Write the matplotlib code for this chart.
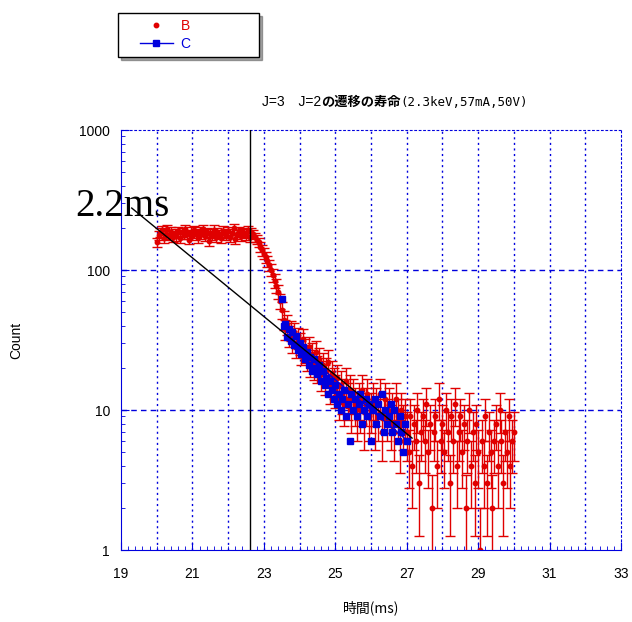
import numpy as np
import matplotlib
matplotlib.use('Agg')
import matplotlib.pyplot as plt
from matplotlib.lines import Line2D
from matplotlib.legend_handler import HandlerLine2D
from matplotlib.ticker import FixedLocator, NullFormatter, LogLocator

plt.rcParams['font.family'] = ['Liberation Sans', 'Noto Sans CJK JP', 'DejaVu Sans']

# series B: counts with sqrt(N) error bars, 20.00 .. 30.00 ms step 0.05
b_start = 20.0
b_step = 0.05
b_counts = [
    158, 178, 185, 192, 170, 181, 196, 176, 188, 172,
    183, 174, 190, 168, 186, 179, 195, 181, 165, 188,
    176, 192, 184, 170, 189, 181, 197, 175, 186, 160,
    182, 178, 194, 171, 187, 180, 168, 191, 183, 176,
    189, 172, 184, 198, 166, 181, 190, 175, 187, 183,
    178, 192, 171, 186, 180, 172, 165, 158, 146, 138,
    131, 124, 116, 108, 100, 92, 84, 77, 70, 60,
    52, 44, 38, 41, 34, 37, 31, 36, 29, 33,
    30, 26, 32, 27, 24, 28, 22, 25, 21, 26,
    20, 23, 18, 21, 17, 19, 22, 15, 18, 16,
    14, 17, 12, 15, 13, 11, 16, 12, 14, 10,
    13, 11, 9, 12, 10, 14, 8, 11, 13, 9,
    10, 12, 8, 11, 9, 13, 7, 10, 12, 9,
    11, 8, 10, 7, 12, 9, 6, 10, 8, 9,
    7, 5, 9, 4, 8, 6, 10, 3, 7, 9,
    6, 11, 5, 8, 2, 7, 9, 4, 12, 6,
    8, 5, 10, 7, 3, 9, 6, 11, 4, 7,
    9, 5, 8, 2, 6, 10, 4, 7, 3, 8,
    5, 1, 6, 4, 9, 3, 7, 5, 2, 6,
    8, 4, 10, 6, 3, 7, 5, 9, 4, 6,
    7,
]

# series C: 23.50 .. 27.00 ms step 0.05
c_start = 23.5
c_step = 0.05
c_counts = [
    62, 40, 41, 33, 38, 31, 36, 29, 34, 27,
    30, 25, 28, 23, 26, 21, 24, 19, 23, 20,
    18, 21, 16, 19, 15, 17, 13, 16, 14, 12,
    15, 11, 13, 10, 12, 14, 9, 11, 6, 13,
    10, 12, 9, 11, 13, 8, 10, 12, 9, 11,
    6, 10, 12, 8, 11, 9, 13, 7, 10, 8,
    9, 11, 7, 10, 8, 6, 9, 7, 5, 8,
    6,
]

# fitted lines (end points)
fit_x = [19.3, 27.15]
fit_y = [277, 6.3]
fitc_x = [23.6, 27.1]
fitc_y = [33, 5.8]
marker_t = 22.6

bx = b_start + b_step * np.arange(len(b_counts))
by = np.array(b_counts, dtype=float)
cx = c_start + c_step * np.arange(len(c_counts))
cy = np.array(c_counts, dtype=float)

fig = plt.figure(figsize=(6.32, 6.22), dpi=100)
ax = fig.add_axes([121/632, 1-550/622, 500/632, 420/622])
ax.set_xlim(19, 33)
ax.set_yscale('log')
ax.set_ylim(1, 1000)

blue = '#0000dd'
red = '#e00000'

# grid
for x in range(20, 33):
    ax.axvline(x, color=blue, lw=1, ls=(0, (1.5, 2.5)), zorder=0.5)
for y in [10, 100]:
    ax.axhline(y, color=blue, lw=1, ls=(0, (4, 3)), zorder=0.5)

ax.errorbar(bx, by, yerr=np.sqrt(by), fmt='o', color=red, ms=3.2,
            ecolor=red, elinewidth=1, capsize=3.5, capthick=1, zorder=2)
ax.plot(cx, cy, 's', color=blue, ms=4, zorder=3)
ax.plot(fitc_x, fitc_y, color=blue, lw=1, zorder=3)
ax.plot(fit_x, fit_y, color='black', lw=1, zorder=4)
ax.axvline(marker_t, color='black', lw=1, zorder=4)

for side in ['left', 'bottom']:
    ax.spines[side].set_color(blue)
for side in ['top', 'right']:
    ax.spines[side].set_color(blue)
    ax.spines[side].set_linestyle((0, (1.5, 2.5)))

ax.set_xticks(range(19, 34, 2))
ax.xaxis.set_minor_locator(FixedLocator(np.arange(19, 33.01, 0.2)))
ax.yaxis.set_major_locator(FixedLocator([1, 10, 100, 1000]))
ax.yaxis.set_minor_locator(LogLocator(base=10, subs=np.arange(2, 10)))
ax.yaxis.set_minor_formatter(NullFormatter())
ax.set_yticklabels(['1', '10', '100', '1000'])
ax.tick_params(axis='both', which='major', direction='in', length=6, color=blue,
               labelsize=10, top=False, right=False)
ax.tick_params(axis='both', which='minor', direction='in', length=3, color=blue,
               top=False, right=False)
ax.tick_params(axis='x', which='major', pad=12)
ax.tick_params(axis='y', which='major', pad=8)

ax.set_xlabel('時間(ms)', fontsize=10, family=['Noto Sans CJK JP'], labelpad=14)
ax.set_ylabel('Count', fontsize=10)
ax.yaxis.set_label_coords(-0.195, 0.5)

# title in three pieces: plain / bold CJK / mono
t1 = fig.text(262/632, 1-102/622, 'J=3\u3000J=2', fontsize=10,
              family=['Liberation Sans', 'Noto Sans CJK JP'], ha='left', va='center')
t2 = ax.annotate('の遷移の寿命', xy=(1, 0.5), xycoords=t1, ha='left', va='center',
                 fontsize=9.5, fontweight='bold', family=['Noto Sans CJK JP'],
                 annotation_clip=False)
t3 = ax.annotate('(2.3keV,57mA,50V)', xy=(1, 0.5), xycoords=t2, ha='left', va='center',
                 fontsize=9, family=['DejaVu Sans Mono'], annotation_clip=False)

fig.text(75/632, 1-207/622, '2.2ms', fontsize=28, family='Liberation Serif',
         ha='left', va='center', zorder=10)

handles = [Line2D([], [], ls='none', marker='o', color=red, ms=3.2),
           Line2D([], [], ls='-', marker='s', color=blue, ms=4, lw=1)]
pad_handler = HandlerLine2D(xpad=1.1)
leg = fig.legend(handles, ['B' + ' ' * 16, 'C' + ' ' * 16], loc='upper left',
                 bbox_to_anchor=(118/632, 1-13/622), frameon=True,
                 fancybox=False, shadow=True, fontsize=10,
                 handlelength=3.5, borderpad=0.45, labelspacing=0.25,
                 handletextpad=0.6, borderaxespad=0,
                 handler_map={h: pad_handler for h in handles})
leg.get_frame().set_edgecolor('black')
for txt, col in zip(leg.get_texts(), [red, blue]):
    txt.set_color(col)

fig.savefig('out.png', dpi=100)
